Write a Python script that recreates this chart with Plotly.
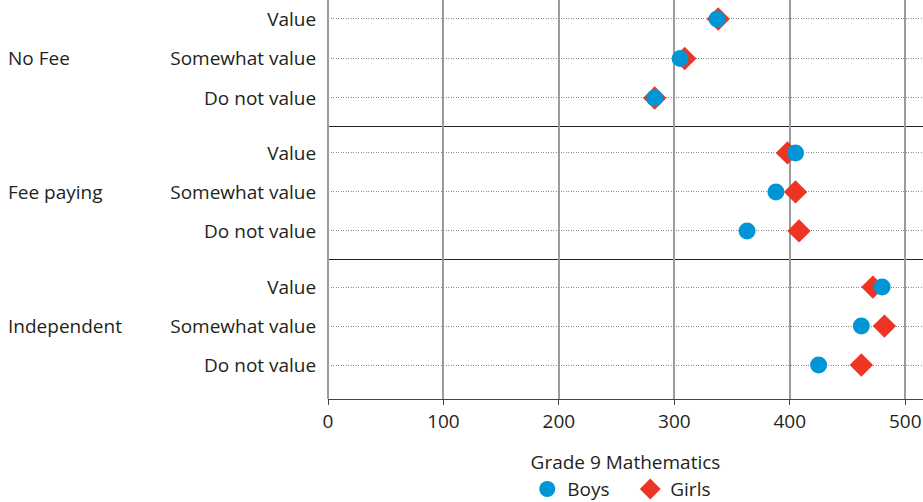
import plotly.graph_objects as go
from plotly.subplots import make_subplots

groups = ["No Fee", "Fee paying", "Independent"]
attitudes = ["Do not value", "Somewhat value", "Value"]

# values listed in order of attitudes: Do not value, Somewhat value, Value
boys = {
    "No Fee": [283, 305, 337],
    "Fee paying": [363, 388, 405],
    "Independent": [425, 462, 480],
}
girls = {
    "No Fee": [283, 309, 338],
    "Fee paying": [408, 405, 398],
    "Independent": [462, 482, 472],
}

x_ticks = [0, 100, 200, 300, 400, 500]

BLUE = "#0096D6"
RED = "#EE3524"
FONT = "Open Sans"
FS = 19
TXT = "#231F20"
GRID = "#9B9B9B"

fig = make_subplots(rows=3, cols=1, shared_xaxes=True, vertical_spacing=0)

for i, g in enumerate(groups, start=1):
    fig.add_trace(go.Scatter(
        x=girls[g], y=attitudes, mode="markers", name="Girls",
        marker=dict(symbol="diamond", size=18, color=RED, line=dict(width=0)),
        showlegend=(i == 1), legendrank=2, cliponaxis=False,
    ), row=i, col=1)
    fig.add_trace(go.Scatter(
        x=boys[g], y=attitudes, mode="markers", name="Boys",
        marker=dict(symbol="circle", size=17, color=BLUE, line=dict(width=0)),
        showlegend=(i == 1), legendrank=1, cliponaxis=False,
    ), row=i, col=1)
    fig.add_annotation(
        text=g, xref="paper", yref=f"y{'' if i == 1 else i}", x=-0.5415, y="Somewhat value",
        xanchor="left", yanchor="middle", showarrow=False,
        font=dict(family=FONT, size=FS, color=TXT),
    )

H = 399.0
domains = [((H - 126) / H, 1.0), ((H - 259) / H, (H - 126) / H), (0.0, (H - 259) / H)]
ranges = [[-0.709, 2.48], [-0.72, 2.69], [-0.87, 2.72]]

for i in range(3):
    yname = "yaxis" if i == 0 else f"yaxis{i+1}"
    xname = "xaxis" if i == 0 else f"xaxis{i+1}"
    fig.layout[yname].update(
        domain=list(domains[i]), type="category", categoryorder="array",
        categoryarray=attitudes, range=ranges[i], automargin=False,
        showgrid=True, gridcolor="#8A8A8A", griddash="1px,1.5px", gridwidth=1,
        showline=False, zeroline=False,
        ticks="outside", ticklen=7, tickcolor="rgba(0,0,0,0)",
        tickfont=dict(family=FONT, size=FS, color=TXT),
    )
    fig.layout[xname].update(
        range=[0, 515.4], showgrid=True, gridcolor=GRID, gridwidth=1.6,
        tickvals=x_ticks, zeroline=True, zerolinecolor=GRID, zerolinewidth=1.6,
        showline=True, linecolor="#231F20", linewidth=1.4, automargin=False,
    )
    if i < 2:
        fig.layout[xname].update(showticklabels=False, ticks="")

fig.layout["xaxis3"].update(
    showticklabels=True, ticks="outside", ticklen=5, tickcolor="#444444", tickwidth=1.4,
    linecolor="#444444",
    tickfont=dict(family=FONT, size=FS, color=TXT),
    title=dict(text="Grade 9 Mathematics", font=dict(family=FONT, size=FS, color=TXT), standoff=22),
)

fig.update_layout(
    width=923, height=502,
    margin=dict(l=328, r=0, t=0, b=103, autoexpand=False),
    plot_bgcolor="white", paper_bgcolor="white",
    legend=dict(orientation="h", x=0.508, xanchor="center", y=-0.226, yanchor="middle",
                font=dict(family=FONT, size=FS, color=TXT), entrywidth=58, entrywidthmode="pixels"),
    showlegend=True,
)

fig.write_html("out.html", config={"displayModeBar": False},
               post_script="document.body.style.margin='0';document.body.style.overflow='hidden';")
